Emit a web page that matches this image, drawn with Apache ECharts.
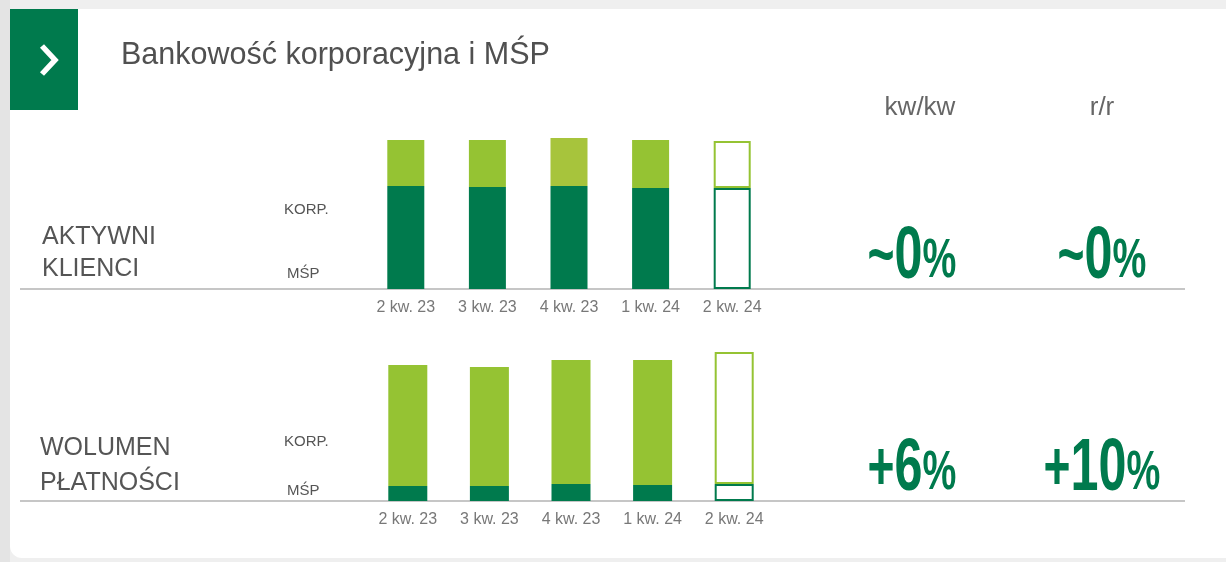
<!DOCTYPE html>
<html>
<head>
<meta charset="utf-8">
<script src="https://cdn.jsdelivr.net/npm/echarts@6/dist/echarts.min.js"></script>
<style>
html,body{margin:0;padding:0;background:#efefef;}
#c{width:1226px;height:562px;}
</style>
</head>
<body>
<div id="c"></div>
<script>
// ---- data ----
const title = 'Bankowość korporacyjna i MŚP';
const categories = ['2 kw. 23', '3 kw. 23', '4 kw. 23', '1 kw. 24', '2 kw. 24'];
const segmentNames = ['MŚP', 'KORP.'];
const clientsMSP  = [103, 102, 103, 101, 101];
const clientsKORP = [46, 47, 48, 48, 47];
const volumeMSP   = [15, 15, 17, 16, 17];
const volumeKORP  = [121, 119, 124, 125, 132];
const outlined    = [false, false, false, false, true];
const rowTitles   = [['AKTYWNI', 'KLIENCI'], ['WOLUMEN', 'PŁATNOŚCI']];
const changeHeaders = ['kw/kw', 'r/r'];
const clientsChange = [['~', '0'], ['~', '0']];
const volumeChange  = [['+', '6'], ['+', '10']];

// ---- styles ----
const DARK = '#007a4d';
const LIGHT = '#95c333';
const LIGHT_ALT = '#a7c43c';
const FONT = "'Liberation Sans', Arial, sans-serif";

function styled(vals, edge, altIdx) {
  return vals.map((v, i) => {
    if (outlined[i]) return { value: v, itemStyle: { color: '#ffffff', borderColor: edge, borderWidth: 2 } };
    if (i === altIdx) return { value: v, itemStyle: { color: LIGHT_ALT } };
    return v;
  });
}

const chart = echarts.init(document.getElementById('c'), null, { renderer: 'canvas' });

const axisCommon = {
  type: 'category',
  data: categories,
  axisLine: { lineStyle: { color: '#c6c6c6', width: 2 } },
  axisTick: { length: 5, lineStyle: { color: '#a8a8a8', width: 1.5 } },
  axisLabel: { color: '#787878', fontSize: 16, fontFamily: FONT, margin: 11 }
};

function bigNumber(parts, cx, y) {
  return {
    type: 'text', x: cx, y: y, scaleX: 0.68,
    style: {
      text: '{s|' + parts[0] + '}{d|' + parts[1] + '}{p|%}',
      align: 'center', verticalAlign: 'bottom',
      rich: {
        s: { fontSize: 68, fontWeight: 'bold', fontFamily: FONT, fill: DARK, color: DARK, lineHeight: 68, verticalAlign: 'middle' },
        d: { fontSize: 74, fontWeight: 'bold', fontFamily: FONT, fill: DARK, color: DARK, lineHeight: 74, verticalAlign: 'bottom' },
        p: { fontSize: 56, fontWeight: 'bold', fontFamily: FONT, fill: DARK, color: DARK, lineHeight: 60, verticalAlign: 'bottom', padding: [0, 0, 5, 0] }
      }
    },
    z: 10
  };
}

// y given as text baseline; converted to the middle of the em box
function txt(text, x, baseline, size, color, align) {
  return { type: 'text', x: x, y: baseline - 0.3465 * size, style: { text: text, fontSize: size, fontFamily: FONT, fill: color, align: align || 'left', verticalAlign: 'middle' }, z: 10 };
}

const option = {
  animation: false,
  backgroundColor: '#efefef',
  grid: [
    { left: 365, width: 408, top: 129, height: 160 },
    { left: 367, width: 408, top: 341, height: 160 }
  ],
  xAxis: [
    Object.assign({ gridIndex: 0 }, axisCommon),
    Object.assign({ gridIndex: 1 }, axisCommon)
  ],
  yAxis: [
    { type: 'value', gridIndex: 0, min: 0, max: 160, show: false },
    { type: 'value', gridIndex: 1, min: 0, max: 160, show: false }
  ],
  series: [
    { name: segmentNames[0], type: 'bar', xAxisIndex: 0, yAxisIndex: 0, stack: 'a', barWidth: 37, itemStyle: { color: DARK }, data: styled(clientsMSP, DARK, -1) },
    { name: segmentNames[1], type: 'bar', xAxisIndex: 0, yAxisIndex: 0, stack: 'a', barWidth: 37, itemStyle: { color: LIGHT }, data: styled(clientsKORP, LIGHT, 2) },
    { name: segmentNames[0], type: 'bar', xAxisIndex: 1, yAxisIndex: 1, stack: 'b', barWidth: 39, itemStyle: { color: DARK }, data: styled(volumeMSP, DARK, -1) },
    { name: segmentNames[1], type: 'bar', xAxisIndex: 1, yAxisIndex: 1, stack: 'b', barWidth: 39, itemStyle: { color: LIGHT }, data: styled(volumeKORP, LIGHT, -1) }
  ],
  graphic: [
    { type: 'rect', shape: { x: 0, y: 0, width: 10, height: 562 }, style: { fill: '#e4e4e4' }, z: -10 },
    { type: 'rect', shape: { x: 10, y: 9, width: 1230, height: 549, r: [0, 0, 0, 12] }, style: { fill: '#ffffff' }, z: -9 },
    { type: 'rect', shape: { x: 10, y: 9, width: 68, height: 101 }, style: { fill: DARK }, z: -8 },
    { type: 'polyline', shape: { points: [[42, 46], [55, 60], [42, 74]] }, style: { stroke: '#ffffff', lineWidth: 5.5, fill: null }, z: 5 },
    { type: 'line', shape: { x1: 20, y1: 289, x2: 1185, y2: 289 }, style: { stroke: '#c6c6c6', lineWidth: 2 }, z: -5 },
    { type: 'line', shape: { x1: 20, y1: 501, x2: 1185, y2: 501 }, style: { stroke: '#c6c6c6', lineWidth: 2 }, z: -5 },
    txt(title, 121, 66, 30.5, '#505050'),
    txt(rowTitles[0][0], 42, 246, 25, '#555555'),
    txt(rowTitles[0][1], 42, 278, 25, '#555555'),
    txt(rowTitles[1][0], 40, 457, 25, '#555555'),
    txt(rowTitles[1][1], 40, 492, 25, '#555555'),
    txt(segmentNames[1], 284, 215, 15, '#555555'),
    txt(segmentNames[0], 287, 279, 15, '#555555'),
    txt(segmentNames[1], 284, 447, 15, '#555555'),
    txt(segmentNames[0], 287, 496, 15, '#555555'),
    txt(changeHeaders[0], 920, 117, 26, '#666666', 'center'),
    txt(changeHeaders[1], 1102, 117, 26, '#666666', 'center'),
    bigNumber(clientsChange[0], 912, 295),
    bigNumber(clientsChange[1], 1102, 295),
    bigNumber(volumeChange[0], 912, 507),
    bigNumber(volumeChange[1], 1102, 507)
  ]
};
chart.setOption(option);
</script>
</body>
</html>
